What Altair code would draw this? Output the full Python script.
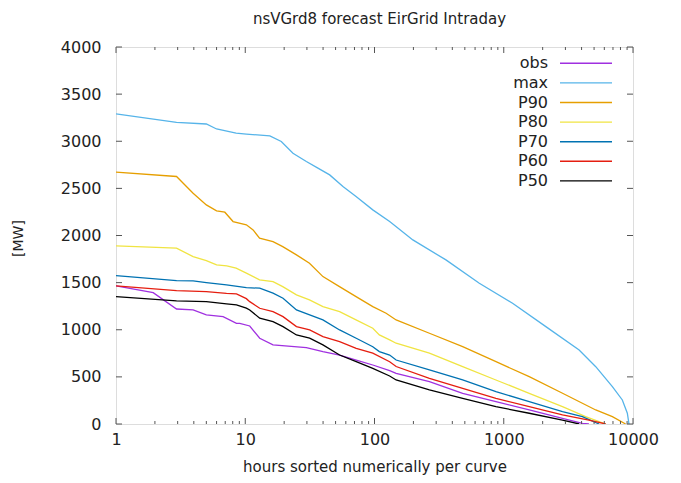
import altair as alt
import pandas as pd

# ---------------- data ----------------
names = ["obs", "max", "P90", "P80", "P70", "P60", "P50"]
colors = ["#a030e0", "#56b4e9", "#e69f00", "#f0e442", "#0072b2", "#e51e10", "#000000"]

obs_x = [1, 1.94, 2.94, 3.95, 5.0, 6.74, 8.55, 9.07, 10.83, 12.94, 16.4, 29.7, 39.9, 53.7, 72.2, 97, 131, 147, 266, 481, 870, 1574, 2847, 4060, 4560]
obs_y = [1465, 1394, 1220, 1210, 1157, 1139, 1068, 1068, 1040, 910, 839, 810, 768, 732, 679, 626, 566, 538, 449, 326, 237, 149, 60, 7, 0]

max_x = [1, 2.94, 5.0, 6.0, 8.5, 10.2, 15.5, 19, 23.4, 29.7, 36.5, 45, 57, 72, 97, 131, 198, 357, 647, 1170, 2117, 3830, 5150, 6925, 8270, 9040, 9310]
max_y = [3290, 3200, 3183, 3130, 3086, 3076, 3057, 2997, 2873, 2785, 2715, 2643, 2519, 2413, 2272, 2148, 1953, 1741, 1494, 1281, 1033, 786, 608, 396, 255, 114, 0]

p90_x = [1, 2.94, 3.95, 5.0, 6.0, 6.95, 8.05, 10.2, 11.5, 12.9, 16.4, 19.5, 24.9, 31.4, 39.9, 53.6, 72, 97, 123, 147, 266, 481, 871, 1574, 2850, 5150, 6925, 8770]
p90_y = [2672, 2626, 2449, 2325, 2261, 2247, 2148, 2113, 2059, 1971, 1935, 1882, 1794, 1706, 1564, 1458, 1351, 1245, 1175, 1104, 963, 821, 661, 502, 326, 149, 78, 0]

p80_x = [1, 2.94, 3.95, 5.0, 6.0, 7.2, 8.5, 10.2, 12.9, 16.4, 19.5, 24.9, 31.4, 39.9, 53.7, 72, 97, 109, 131, 147, 266, 481, 870, 1574, 2847, 4300, 6150]
p80_y = [1890, 1865, 1776, 1734, 1688, 1677, 1653, 1600, 1529, 1511, 1458, 1370, 1316, 1245, 1192, 1104, 1016, 945, 892, 857, 751, 608, 467, 326, 184, 78, 0]

p70_x = [1, 2.94, 3.95, 5.0, 7.16, 10.2, 12.94, 16.4, 19.6, 24.9, 31.5, 39.9, 53.7, 72.2, 97, 109, 131, 147, 266, 481, 870, 1574, 2847, 4060, 5460]
p70_y = [1575, 1522, 1518, 1500, 1476, 1447, 1441, 1388, 1335, 1210, 1157, 1104, 998, 910, 820, 768, 732, 679, 573, 467, 343, 237, 131, 78, 0]

p60_x = [1, 2.94, 5.0, 7.16, 8.55, 10.2, 10.83, 12.94, 16.4, 19.6, 24.9, 31.5, 39.9, 53.7, 72.2, 97, 131, 147, 266, 481, 870, 1574, 2847, 4560, 6150]
p60_y = [1465, 1415, 1404, 1386, 1380, 1330, 1298, 1228, 1192, 1139, 1033, 998, 927, 874, 803, 751, 661, 610, 485, 379, 273, 184, 96, 42, 0]

p50_x = [1, 2.94, 5.0, 7.16, 8.55, 10.2, 10.83, 12.94, 16.4, 19.6, 24.9, 31.5, 39.9, 53.7, 72.2, 97, 131, 147, 266, 481, 870, 1574, 2847, 3830]
p50_y = [1351, 1306, 1298, 1274, 1263, 1230, 1210, 1122, 1086, 1033, 945, 910, 839, 732, 661, 591, 509, 467, 361, 273, 184, 114, 42, 0]

series_x = [obs_x, max_x, p90_x, p80_x, p70_x, p60_x, p50_x]
series_y = [obs_y, max_y, p90_y, p80_y, p70_y, p60_y, p50_y]

x_major = [1, 10, 100, 1000, 10000]
x_minor = [m * d for d in [1, 10, 100, 1000] for m in range(2, 10)]
y_major = [0, 500, 1000, 1500, 2000, 2500, 3000, 3500, 4000]

# ---------------- build table ----------------
rows = []
for k, (nm, xs, ys) in enumerate(zip(names, series_x, series_y)):
    for i, (xv, yv) in enumerate(zip(xs, ys)):
        rows.append({"series": nm, "k": k, "i": i, "x": xv, "y": yv})
df = pd.DataFrame(rows)

W, H = 517, 377
FONT = "DejaVu Sans"
TXT = "#222222"
AX = "#555555"

xscale = alt.Scale(type="log", domain=[1, 10000], nice=False)
yscale = alt.Scale(domain=[0, 4000], nice=False)

x_axis = alt.Axis(values=x_major, format="d", ticks=False, domain=False, grid=False,
                  labelFontSize=16, labelFont=FONT, labelColor=TXT, labelPadding=7,
                  labelFlush=False, labelOverlap=False,
                  title="hours sorted numerically per curve", titleFontSize=15,
                  titleFont=FONT, titleFontWeight="normal", titleColor=TXT,
                  titleBaseline="alphabetic", titleY=47)
y_axis = alt.Axis(values=y_major, format="d", ticks=False, domain=False, grid=False,
                  labelFontSize=16, labelFont=FONT, labelColor=TXT, labelPadding=15,
                  labelFlush=False, labelOverlap=False,
                  title="[MW]", titleFontSize=14, titleFont=FONT,
                  titleFontWeight="normal", titleColor=TXT,
                  titleX=-98, titleY=191, titleAngle=270,
                  titleAlign="center", titleBaseline="middle")

lines = alt.Chart(df).mark_line(strokeWidth=1.3, clip=True).encode(
    x=alt.X("x:Q", scale=xscale, axis=x_axis),
    y=alt.Y("y:Q", scale=yscale, axis=y_axis),
    color=alt.Color("series:N", scale=alt.Scale(domain=names, range=colors), legend=None),
    order="i:Q",
)

layers = [lines]

# inward ticks on all four sides
xmaj = pd.DataFrame({"x": x_major})
xmin = pd.DataFrame({"x": x_minor})
ymaj = pd.DataFrame({"y": y_major})
for data, ln in [(xmaj, 6), (xmin, 3)]:
    layers.append(alt.Chart(data).mark_rule(color=AX, strokeWidth=1).encode(
        x=alt.X("x:Q", scale=xscale, axis=x_axis), y=alt.value(H), y2=alt.value(H - ln)))
    layers.append(alt.Chart(data).mark_rule(color=AX, strokeWidth=1).encode(
        x=alt.X("x:Q", scale=xscale, axis=x_axis), y=alt.value(0), y2=alt.value(ln)))
layers.append(alt.Chart(ymaj).mark_rule(color=AX, strokeWidth=1).encode(
    y=alt.Y("y:Q", scale=yscale, axis=y_axis), x=alt.value(0), x2=alt.value(6)))
layers.append(alt.Chart(ymaj).mark_rule(color=AX, strokeWidth=1).encode(
    y=alt.Y("y:Q", scale=yscale, axis=y_axis), x=alt.value(W), x2=alt.value(W - 6)))

# gnuplot-style key (label left, sample right)
for i, (nm, col) in enumerate(zip(names, colors)):
    ly = 16.3 + 19.6 * i
    layers.append(alt.Chart(pd.DataFrame({"label": [nm]})).mark_text(
        align="right", baseline="middle", fontSize=16, font=FONT, color=TXT).encode(
        x=alt.value(432), y=alt.value(ly), text="label:N"))
    layers.append(alt.Chart(pd.DataFrame({"label": [nm]})).mark_rule(
        color=col, strokeWidth=1.4).encode(
        x=alt.value(444), x2=alt.value(496), y=alt.value(ly)))

chart = alt.layer(*layers).properties(
    width=W, height=H,
    title=alt.TitleParams("nsVGrd8 forecast EirGrid Intraday", fontSize=15, font=FONT,
                          fontWeight="normal", color=TXT, anchor="middle", offset=12, dx=5),
    padding={"left": 108, "top": 39, "right": 40, "bottom": 51},
    autosize=alt.AutoSizeParams(type="none"),
).configure_view(stroke=AX, strokeWidth=1.5).configure(background="white")

chart.save("out.html", embed_options={"renderer": "svg", "actions": False})
